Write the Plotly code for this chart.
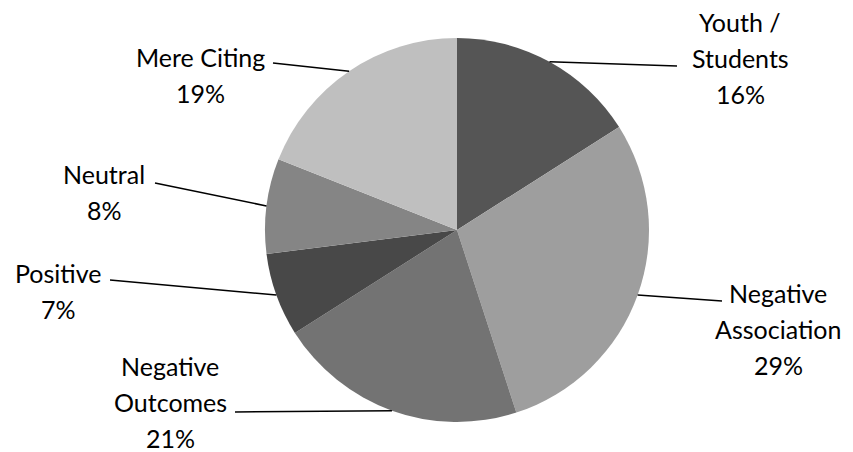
import math
import plotly.graph_objects as go

# ---- data ----
categories = ["Youth / Students", "Negative Association", "Negative Outcomes",
              "Positive", "Neutral", "Mere Citing"]
label_lines = [["Youth /", "Students"], ["Negative", "Association"], ["Negative", "Outcomes"],
               ["Positive"], ["Neutral"], ["Mere Citing"]]
values = [16, 29, 21, 7, 8, 19]
colors = ["#555555", "#9e9e9e", "#737373", "#484848", "#858585", "#bfbfbf"]

# ---- layout constants (pixels) ----
W, H = 853, 452
CX, CY, R = 457, 230, 192
FONT = "Lato"
FS = 25
LINE_H = 36
# label anchor (text center x, first line y) and leader-line end point
label_pos = [(740, 22, 677, 66), (778, 293, 722, 301), (170, 366, 235, 412),
             (58, 273, 110, 280), (104, 174, 155, 183), (200, 57, 273, 63)]

fig = go.Figure()
fig.add_trace(go.Pie(
    labels=categories, values=values, sort=False, direction="clockwise", rotation=0,
    marker=dict(colors=colors, line=dict(width=0)), textinfo="none",
    hoverinfo="label+percent", showlegend=False,
    domain=dict(x=[(CX - R) / W, (CX + R) / W], y=[(H - CY - R) / H, (H - CY + R) / H]),
))

total = sum(values)
cum = 0
shapes = []
annotations = []
for i, v in enumerate(values):
    mid = (cum + v / 2) / total * 2 * math.pi
    cum += v
    sx = CX + R * math.sin(mid)
    sy = CY - R * math.cos(mid)
    tx, ty, ex, ey = label_pos[i]
    shapes.append(dict(type="line", xref="x", yref="y", x0=sx, y0=sy, x1=ex, y1=ey,
                       line=dict(color="black", width=1.5)))
    pct = round(v / total * 100)
    lines = label_lines[i] + [f"{pct}%"]
    for j, t in enumerate(lines):
        annotations.append(dict(x=tx, y=ty + j * LINE_H, xref="x", yref="y", text=t,
                                showarrow=False, xanchor="center", yanchor="middle",
                                font=dict(family=FONT, size=FS, color="black")))

fig.update_layout(
    width=W, height=H, margin=dict(l=0, r=0, t=0, b=0),
    paper_bgcolor="white", plot_bgcolor="rgba(0,0,0,0)",
    xaxis=dict(range=[0, W], visible=False, fixedrange=True),
    yaxis=dict(range=[H, 0], visible=False, fixedrange=True),
    shapes=shapes, annotations=annotations,
)
fig.write_html("out.html", post_script="document.body.style.margin='0';",
               config={"displayModeBar": False})
